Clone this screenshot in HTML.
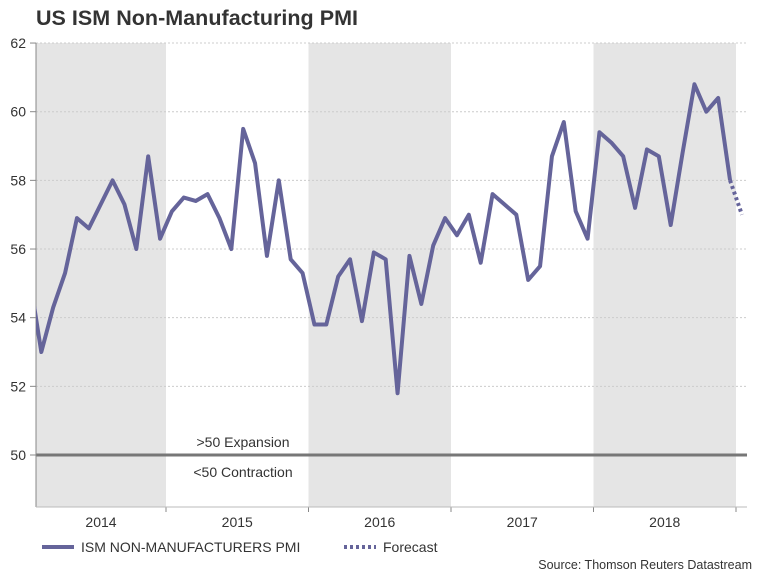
<!DOCTYPE html>
<html><head><meta charset="utf-8"><style>
html,body{margin:0;padding:0;background:#fff;}
svg{display:block;font-family:"Liberation Sans",Arial,sans-serif;}
</style></head><body>
<svg id="chart" width="768" height="576" viewBox="0 0 768 576">
<text x="36" y="25" font-size="21.5" font-weight="bold" fill="#333" textLength="322">US ISM Non-Manufacturing PMI</text>
<g id="bands"></g>
<g id="grid"></g>
<g id="axes"></g>
<g id="series"></g>
<text x="243" y="447" font-size="14" fill="#333" text-anchor="middle">&gt;50 Expansion</text>
<text x="243" y="477" font-size="14" fill="#333" text-anchor="middle">&lt;50 Contraction</text>
<g>
<line x1="42" y1="547" x2="74" y2="547" stroke="#65649a" stroke-width="4"/>
<text x="81" y="552" font-size="14" fill="#333">ISM NON-MANUFACTURERS PMI</text>
<line x1="344" y1="547" x2="376" y2="547" stroke="#65649a" stroke-width="4" stroke-dasharray="3,3"/>
<text x="383" y="552" font-size="14" fill="#333">Forecast</text>
</g>
<text x="752" y="569" font-size="12.5" fill="#333" text-anchor="end">Source: Thomson Reuters Datastream</text>
</svg>
<script>
const years = ["2014","2015","2016","2017","2018"];
const yTicks = [50,52,54,56,58,60,62];
const pmi = [55.2,53.0,54.3,55.3,56.9,56.6,57.3,58.0,57.3,56.0,58.7,56.3,
57.1,57.5,57.4,57.6,56.9,56.0,59.5,58.5,55.8,58.0,55.7,55.3,
53.8,53.8,55.2,55.7,53.9,55.9,55.7,51.8,55.8,54.4,56.1,56.9,
56.4,57.0,55.6,57.6,57.3,57.0,55.1,55.5,58.7,59.7,57.1,56.3,
59.4,59.1,58.7,57.2,58.9,58.7,56.7,58.8,60.8,60.0,60.4,58.0];
const forecast = [58.0,57.0];

const NS="http://www.w3.org/2000/svg";
const L=36,R=747,T=43,B=507,base=23.5,mw=11.875;
function y(v){return 455-(v-50)*34.33;}
function xm(i){return base+(i+0.5)*mw;}
function yb(k){return base+k*12*mw;}
function mk(tag,attrs,parent){const e=document.createElementNS(NS,tag);for(const k in attrs)e.setAttribute(k,attrs[k]);parent.appendChild(e);return e;}
const bands=document.getElementById('bands'),grid=document.getElementById('grid'),axes=document.getElementById('axes'),series=document.getElementById('series');
years.forEach((yr,k)=>{
  if(k%2===0){
    const x0=Math.max(L,yb(k)),x1=yb(k+1);
    const r=mk('rect',{x:x0,y:T,width:x1-x0,height:B-T,fill:'#e5e5e5'},bands);
    
    
  }
  const t=mk('text',{x:(Math.max(L,yb(k))+yb(k+1))/2,y:527,'font-size':14,fill:'#333','text-anchor':'middle'},axes);
  t.textContent=yr;
  
  
  const tk=mk('line',{x1:yb(k+1),y1:B,x2:yb(k+1),y2:B+5,stroke:'#888'},axes);
  
  
});
yTicks.forEach(v=>{
  if(v!==50){
    const g=mk('line',{x1:L,y1:y(v),x2:R,y2:y(v),stroke:'#ccc','stroke-dasharray':'2,2'},grid);
    
    
  }
  const t=mk('text',{x:26,y:y(v)+5,'font-size':14,fill:'#333','text-anchor':'end'},axes);
  t.textContent=v;
  
  
  const tk=mk('line',{x1:30,y1:y(v),x2:L,y2:y(v),stroke:'#888'},axes);
  
  
});
const zl=mk('line',{x1:L,y1:y(50),x2:R,y2:y(50),stroke:'#777','stroke-width':3},grid);


const ya=mk('line',{x1:L,y1:T,x2:L,y2:B,stroke:'#888'},axes);


const xa=mk('line',{x1:L,y1:B,x2:R,y2:B,stroke:'#bbb'},axes);


const clip=mk('clipPath',{id:'pc'},series);
mk('rect',{x:L,y:0,width:R-L,height:B},clip);
const p=mk('polyline',{points:pmi.map((v,i)=>xm(i)+','+y(v)).join(' '),fill:'none',stroke:'#65649a','stroke-width':4,'stroke-linejoin':'round','clip-path':'url(#pc)'},series);


const off=pmi.length-1;
const f=mk('polyline',{points:forecast.map((v,i)=>xm(off+i)+','+y(v)).join(' '),fill:'none',stroke:'#65649a','stroke-width':4,'stroke-dasharray':'3,3'},series);


</script>
</body></html>
